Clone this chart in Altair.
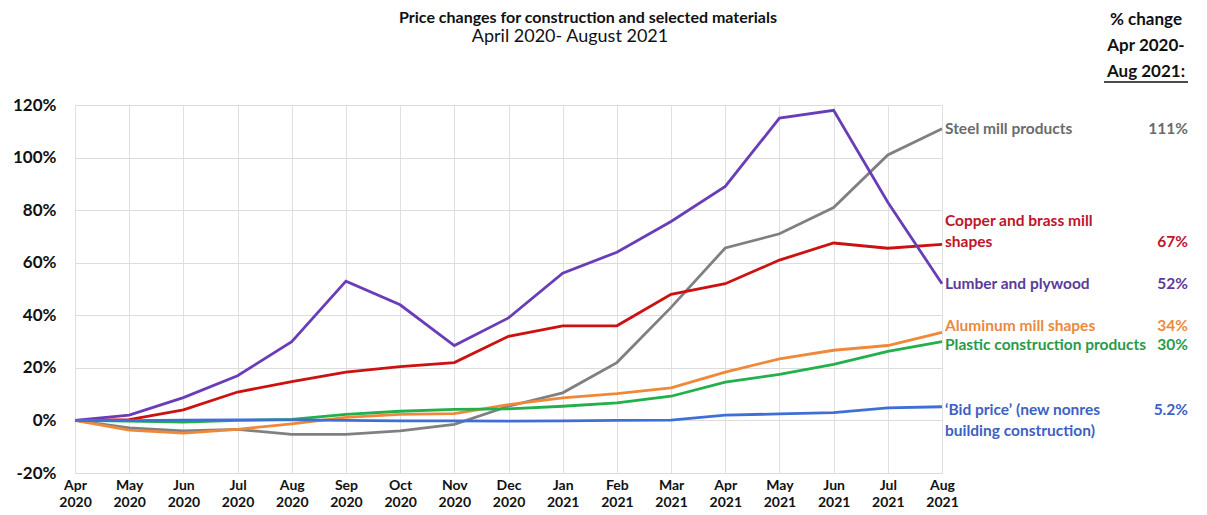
import altair as alt
import pandas as pd

months = ["Apr 2020", "May 2020", "Jun 2020", "Jul 2020", "Aug 2020", "Sep 2020",
          "Oct 2020", "Nov 2020", "Dec 2020", "Jan 2021", "Feb 2021", "Mar 2021",
          "Apr 2021", "May 2021", "Jun 2021", "Jul 2021", "Aug 2021"]

steel = [0, -2.8, -4.0, -3.4, -5.3, -5.3, -4.0, -1.5, 5.4, 10.5, 22, 43, 65.6, 71, 81, 101, 111]
copper = [0, 0.3, 4.0, 10.8, 14.8, 18.4, 20.5, 22, 32, 36, 36, 48, 52, 61, 67.5, 65.5, 67]
lumber = [0, 2, 8.7, 17, 30, 53, 44, 28.5, 39, 56, 64, 75.7, 89, 115, 118, 83, 52]
aluminum = [0, -3.7, -4.8, -3.4, -1.3, 1.2, 2.3, 2.6, 6, 8.6, 10.2, 12.4, 18.4, 23.4, 26.7, 28.5, 33.5]
plastic = [0, -0.3, -0.6, 0, 0.4, 2.3, 3.5, 4.2, 4.4, 5.4, 6.7, 9.2, 14.6, 17.5, 21.3, 26.3, 30]
bid = [0, -0.1, 0.1, 0.2, 0.2, 0, -0.2, -0.2, -0.3, -0.2, 0, 0.1, 2.0, 2.5, 3.0, 4.8, 5.2]

series_names = ["Steel mill products", "Copper and brass mill shapes", "Lumber and plywood",
                "Aluminum mill shapes", "Plastic construction products",
                "'Bid price' (new nonres building construction)"]
series_values = [steel, copper, lumber, aluminum, plastic, bid]
label_lines = [["Steel mill products"], ["Copper and brass mill", "shapes"],
               ["Lumber and plywood"], ["Aluminum mill shapes"],
               ["Plastic construction products"],
               ["\u2018Bid price\u2019 (new nonres", "building construction)"]]
pct_labels = ["111%", "67%", "52%", "34%", "30%", "5.2%"]

line_colors = ["#808080", "#cc1111", "#6a3db8", "#f0883a", "#22b04b", "#3f6fd6"]
text_colors = ["#6b6b6b", "#c0142b", "#5b3a9a", "#ea8a3e", "#2a9a4a", "#3d5fc6"]
label_dy = [0, -23, 0, -6, 3, 3]
pct_dy = [0, -2, 0, -6, 3, 3]

FONT = "Lato"

rows = []
for name, vals in zip(series_names, series_values):
    for m, v in zip(months, vals):
        rows.append({"month": m, "value": v, "series": name})
df = pd.DataFrame(rows)

x_enc = alt.X("month:O", sort=months, title=None,
              scale=alt.Scale(type="point", padding=0),
              axis=alt.Axis(labelExpr="split(datum.label, ' ')", labelAngle=0,
                            labelFont=FONT, labelFontWeight="bold", labelFontSize=14,
                            labelColor="#111", labelPadding=5, labelLineHeight=17,
                            domain=False, ticks=False, grid=True,
                            gridColor="#e0e0e0", gridWidth=1))
y_enc = alt.Y("value:Q", title=None,
              scale=alt.Scale(domain=[-20, 120], nice=False, zero=False),
              axis=alt.Axis(values=[-20, 0, 20, 40, 60, 80, 100, 120],
                            labelExpr="datum.value + '%'",
                            labelFont=FONT, labelFontWeight="bold", labelFontSize=17,
                            labelColor="#111", labelPadding=19,
                            domain=False, ticks=False, grid=True,
                            gridColor="#dcdcdc", gridWidth=1))

lines = alt.Chart(df).mark_line(strokeWidth=2.8).encode(
    x=x_enc, y=y_enc,
    color=alt.Color("series:N", scale=alt.Scale(domain=series_names, range=line_colors),
                    legend=None),
)

layers = [lines]
for i, name in enumerate(series_names):
    d = pd.DataFrame([{"month": months[-1], "value": series_values[i][-1],
                       "label": label_lines[i], "pct": pct_labels[i]}])
    lab = alt.Chart(d).mark_text(align="left", baseline="middle", dx=3, dy=label_dy[i],
                                 font=FONT, fontWeight="bold", fontSize=15.5,
                                 lineHeight=21, color=text_colors[i]).encode(
        x=alt.X("month:O", sort=months), y="value:Q", text="label")
    pct = alt.Chart(d).mark_text(align="right", baseline="middle", dy=pct_dy[i],
                                 font=FONT, fontWeight="bold", fontSize=15.5,
                                 color=text_colors[i]).encode(
        x=alt.value(1113), y="value:Q", text="pct")
    layers += [lab, pct]

title_df = pd.DataFrame([{"t": "Price changes for construction and selected materials"}])
title = alt.Chart(title_df).mark_text(font=FONT, fontWeight="bold", fontSize=16,
                                      baseline="top", align="center", color="#111").encode(
    x=alt.value(513), y=alt.value(-95), text="t")
sub_df = pd.DataFrame([{"t": "April 2020- August 2021"}])
subtitle = alt.Chart(sub_df).mark_text(font=FONT, fontSize=18, baseline="middle",
                                       align="center", color="#111").encode(
    x=alt.value(495), y=alt.value(-68), text="t")
head_df = pd.DataFrame([{"t": ["% change", "Apr 2020-", "Aug 2021:"]}])
header = alt.Chart(head_df).mark_text(font=FONT, fontWeight="bold", fontSize=17,
                                      baseline="middle", align="center", lineHeight=26,
                                      color="#111").encode(
    x=alt.value(1071), y=alt.value(-85), text="t")
underline = alt.Chart(head_df).mark_rule(color="#111", strokeWidth=1.3).encode(
    x=alt.value(1029), x2=alt.value(1113), y=alt.value(-23))

layers += [title, subtitle, header, underline]

chart = alt.layer(*layers).properties(
    width=867, height=368,
    autosize=alt.AutoSizeParams(type="none"),
    padding={"left": 67, "top": 97, "right": 257, "bottom": 42},
    background="white",
).configure_view(stroke=None)

chart.save("out.html", embed_options={"renderer": "svg", "actions": False})
